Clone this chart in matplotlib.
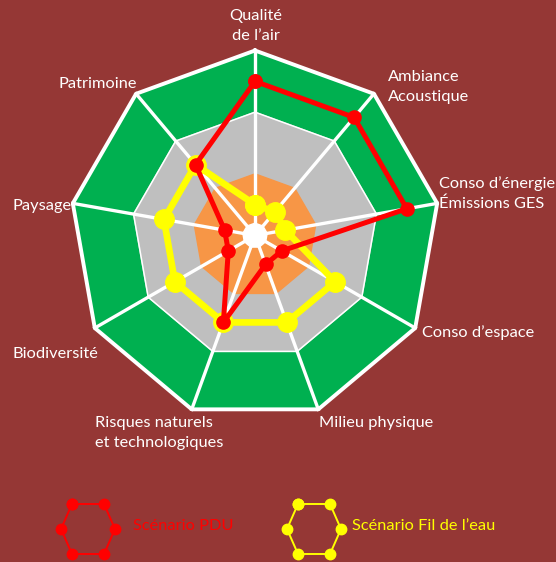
import numpy as np
import matplotlib
matplotlib.use("Agg")
import matplotlib.pyplot as plt

# axes du radar, dans le sens horaire depuis le haut
categories = ["Qualité\nde l’air", "Ambiance\nAcoustique", "Conso d’énergie\nÉmissions GES",
              "Conso d’espace", "Milieu physique", "Risques naturels\net technologiques",
              "Biodiversité", "Paysage", "Patrimoine"]
pdu = [2.5, 2.5, 2.5, 0.5, 0.5, 1.5, 0.5, 0.5, 1.5]
fil_de_l_eau = [0.5, 0.5, 0.5, 1.5, 1.5, 1.5, 1.5, 1.5, 1.5]
series_names = ["Scénario PDU", "Scénario Fil de l’eau"]

BG = "#953735"
W, H = 556, 562

fig = plt.figure(figsize=(W / 100, H / 100), dpi=100, facecolor=BG)
plt.rcParams["font.family"] = ["Lato", "DejaVu Sans"]

# position du radar en pixels : centre (255, 235.5), rayon 185
cx, cy, R = 255, 235.5, 185
ax = fig.add_axes([(cx - R) / W, (H - cy - R) / H, 2 * R / W, 2 * R / H], projection="polar")
ax.set_theta_offset(np.pi / 2)
ax.set_theta_direction(-1)
ax.set_ylim(0, 3)
ax.set_axis_off()

n = len(categories)
angles = np.arange(n) * 2 * np.pi / n
ang_closed = np.append(angles, angles[0])


def ring(r):
    return np.full(n + 1, r)


# zones de fond
ax.fill(ang_closed, ring(3), color="#00B050", zorder=1, clip_on=False)
ax.fill(ang_closed, ring(2), color="#BFBFBF", zorder=2)
ax.fill(ang_closed, ring(1), color="#F79646", zorder=3)
ax.fill(ang_closed, ring(0.2), color="white", zorder=4)
ax.plot(ang_closed, ring(2), color="white", lw=1.1, zorder=5)
ax.plot(ang_closed, ring(3), color="white", lw=2.8, zorder=5, clip_on=False)
for a in angles:
    ax.plot([a, a], [0, 3], color="white", lw=2.4, zorder=5, clip_on=False)

# séries
ax.plot(ang_closed, np.append(fil_de_l_eau, fil_de_l_eau[0]), color="#FFFF00", lw=4.8,
        marker="o", markersize=14, zorder=6)
ax.plot(ang_closed, np.append(pdu, pdu[0]), color="#FF0000", lw=3.6,
        marker="o", markersize=9.5, zorder=7)

# calque en pixels pour les étiquettes et la légende
ov = fig.add_axes([0, 0, 1, 1])
ov.set_xlim(0, W)
ov.set_ylim(H, 0)
ov.set_axis_off()
ov.patch.set_visible(False)

label_pos = [(256, 26, "center"), (388, 87, "left"), (439, 193.5, "left"),
             (422, 332.5, "left"), (319, 422.5, "left"), (95, 433, "left"),
             (12, 354, "left"), (12, 206, "left"), (58, 84, "left")]
for txt, (x, y, ha) in zip(categories, label_pos):
    ov.text(x, y, txt, color="white", fontsize=11.8, ha=ha, va="center",
            multialignment=ha, linespacing=1.55)

# légende : petits hexagones
hx = np.array([-16, 16, 27, 16, -16, -27, -16])
hy = np.array([-25, -25, 0, 25, 25, 0, -25])
for (lx, tx), col, name in zip([(88, 133), (314, 352)], ["#FF0000", "#FFFF00"], series_names):
    ov.plot(lx + hx, 529 + hy, color=col, lw=1.4, marker="o", markersize=7.5)
    ov.text(tx, 526, name, color=col, fontsize=11.8, ha="left", va="center")

fig.savefig("out.png", dpi=100, facecolor=BG)
